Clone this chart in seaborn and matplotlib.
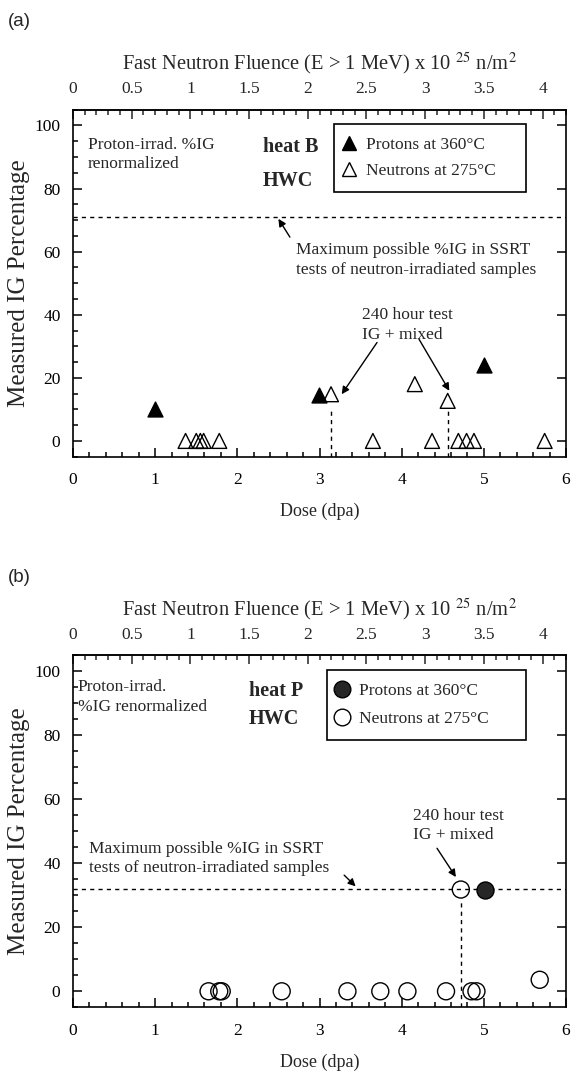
import matplotlib
matplotlib.use("Agg")
import matplotlib.pyplot as plt
import seaborn as sns
import numpy as np
import pandas as pd
from matplotlib.ticker import MultipleLocator, FixedLocator, FuncFormatter
from matplotlib.lines import Line2D

sns.set_theme(style="ticks")
plt.rcParams['font.family'] = ['Liberation Serif', 'DejaVu Serif']
plt.rcParams['mathtext.fontset'] = 'stix'

# ---------------- data ----------------
# panel (a) heat B
dose_pro_a = [1.00, 2.99, 5.00]
ig_pro_a = [10.2, 14.5, 24.2]
dose_neu_a = [1.37, 1.50, 1.55, 1.59, 1.78, 3.14, 3.65, 4.16, 4.37, 4.56, 4.69, 4.79, 4.88, 5.74]
ig_neu_a = [0, 0, 0, 0, 0, 14.8, 0, 18.0, 0, 12.7, 0, 0, 0, 0]
max_ig_a = 71
long_test_dose_a = [3.14, 4.56]
long_test_top_a = [9.5, 10.5]

# panel (b) heat P
dose_pro_b = [5.01]
ig_pro_b = [31.8]
dose_neu_b = [1.65, 1.78, 1.81, 2.54, 3.34, 3.74, 4.07, 4.54, 4.72, 4.85, 4.91, 5.68]
ig_neu_b = [0, 0, 0, 0, 0, 0, 0, 0, 31.8, 0, 0, 3.6]
max_ig_b = 32
long_test_dose_b = [4.72]
long_test_top_b = [28.0]

fluence_per_dpa = 0.7
xticks_dose = [0, 1, 2, 3, 4, 5, 6]
xticks_fluence = [0, 0.5, 1, 1.5, 2, 2.5, 3, 3.5, 4]
yticks_ig = [0, 20, 40, 60, 80, 100]
legend_labels = ['Protons at 360°C', 'Neutrons at 275°C']

FS = 12.5
W, H = 571, 1074
fig = plt.figure(figsize=(W / 100, H / 100), dpi=100)
ax_a = fig.add_axes([73 / W, 1 - 456.7 / H, 493 / W, 347 / H])
ax_b = fig.add_axes([73 / W, 1 - 1007.3 / H, 493 / W, 352 / H])


def style_axes(ax, h_px):
    ax.set_xlim(0, 6)
    ax.set_ylim(-5, 105)
    ax.set_xticks(xticks_dose)
    ax.set_yticks(yticks_ig)
    ax.xaxis.set_minor_locator(MultipleLocator(0.2))
    ax.yaxis.set_minor_locator(MultipleLocator(5))
    ax.tick_params(which='both', direction='in', labelsize=FS, colors='black',
                   top=False, right=True, width=1.1)
    ax.tick_params(which='major', length=6.5)
    ax.tick_params(axis='x', which='major', pad=11)
    ax.tick_params(axis='y', which='major', pad=9)
    ax.tick_params(which='minor', length=3.3, right=False)
    for s in ax.spines.values():
        s.set_linewidth(1.2)
        s.set_color('black')
        s.set_visible(True)
    ax.set_xlabel('Dose (dpa)', fontsize=13)
    ax.xaxis.set_label_coords(0.5, -46 / h_px)
    ax.set_ylabel('Measured IG Percentage', fontsize=18)
    ax.yaxis.set_label_coords(-43 / 493, 0.5)
    sec = ax.secondary_xaxis('top', functions=(lambda d: d * fluence_per_dpa,
                                               lambda f: f / fluence_per_dpa))
    sec.xaxis.set_major_locator(FixedLocator(xticks_fluence))
    sec.xaxis.set_minor_locator(MultipleLocator(0.1))
    sec.xaxis.set_major_formatter(FuncFormatter(lambda v, p: f'{v:g}'))
    sec.tick_params(which='both', direction='in', labelsize=FS, width=1.1, pad=9)
    sec.tick_params(which='major', length=6.5)
    sec.tick_params(which='minor', length=3.3)
    sec.spines['top'].set_linewidth(1.2)
    sec.set_xlabel(r'Fast Neutron Fluence (E > 1 MeV) x 10 $^{25}$ n/m$^{2}$',
                   fontsize=14.8, labelpad=8.5)
    return sec


arrow_kw = dict(arrowstyle='-|>', color='black', lw=1.0, mutation_scale=11,
                shrinkA=0, shrinkB=0)
leg_kw = dict(loc='upper left', fontsize=FS, mode='expand', frameon=True,
              fancybox=False, edgecolor='black', framealpha=1, handlelength=0.2,
              handletextpad=0.9, labelspacing=0.55, borderpad=0.75, borderaxespad=0)

# ---------------- panel (a) ----------------
style_axes(ax_a, 347)
ax_a.axhline(max_ig_a, color='black', lw=1.0, ls=(0, (3, 3)), zorder=1)
ax_a.vlines(long_test_dose_a, -5, long_test_top_a, colors='black', lw=1.0,
            linestyles=(0, (3, 3)), zorder=1)
sns.scatterplot(x=dose_pro_a, y=ig_pro_a, ax=ax_a, marker='^', s=115,
                color='black', edgecolor='black', linewidth=1.0, legend=False, zorder=3)
sns.scatterplot(x=dose_neu_a, y=ig_neu_a, ax=ax_a, marker='^', s=115,
                facecolor='none', edgecolor='black', linewidth=1.0, legend=False, zorder=3)
ax_a.set_xlim(0, 6)
ax_a.set_ylim(-5, 105)

ax_a.text(0.18, 90.8, 'Proton-irrad. %IG\nrenormalized', fontsize=FS,
          va='center', ha='left', linespacing=1.28)
ax_a.text(2.31, 93.1, 'heat B', fontsize=14.5, fontweight='bold', va='center')
ax_a.text(2.31, 82.5, 'HWC', fontsize=14.5, fontweight='bold', va='center')
ax_a.text(2.71, 57.4, 'Maximum possible %IG in SSRT\ntests of neutron-irradiated samples',
          fontsize=FS, va='center', ha='left', linespacing=1.28)
ax_a.text(3.52, 36.8, '240 hour test\nIG + mixed', fontsize=FS, va='center',
          ha='left', linespacing=1.28)
ax_a.annotate('', xy=(2.50, 70.4), xytext=(2.64, 64.6), arrowprops=arrow_kw)
ax_a.annotate('', xy=(3.27, 14.8), xytext=(3.70, 31.2), arrowprops=arrow_kw)
ax_a.annotate('', xy=(4.58, 15.9), xytext=(4.21, 32.3), arrowprops=arrow_kw)

hand_a = [Line2D([], [], ls='', marker='^', ms=10.5, mfc='black', mec='black'),
          Line2D([], [], ls='', marker='^', ms=10.5, mfc='none', mec='black')]
leg = ax_a.legend(hand_a, legend_labels, bbox_to_anchor=(0.53, 0.762, 0.388, 0.197),
                  **leg_kw)
leg.get_frame().set_linewidth(1.2)

# ---------------- panel (b) ----------------
style_axes(ax_b, 352)
ax_b.axhline(max_ig_b, color='black', lw=1.0, ls=(0, (3, 3)), zorder=1)
ax_b.vlines(long_test_dose_b, -5, long_test_top_b, colors='black', lw=1.0,
            linestyles=(0, (3, 3)), zorder=1)
sns.scatterplot(x=dose_neu_b, y=ig_neu_b, ax=ax_b, marker='o', s=150,
                facecolor='none', edgecolor='black', linewidth=1.0, legend=False, zorder=3)
sns.scatterplot(x=dose_pro_b, y=ig_pro_b, ax=ax_b, marker='o', s=150,
                color='#262626', edgecolor='black', linewidth=1.0, legend=False, zorder=3)
ax_b.set_xlim(0, 6)
ax_b.set_ylim(-5, 105)

ax_b.text(0.06, 92.0, 'Proton-irrad.\n%IG renormalized', fontsize=FS,
          va='center', ha='left', linespacing=1.28)
ax_b.text(2.14, 93.7, 'heat P', fontsize=14.5, fontweight='bold', va='center')
ax_b.text(2.14, 85.2, 'HWC', fontsize=14.5, fontweight='bold', va='center')
ax_b.text(0.195, 41.5, 'Maximum possible %IG in SSRT\ntests of neutron-irradiated samples',
          fontsize=FS, va='center', ha='left', linespacing=1.28)
ax_b.text(4.14, 51.9, '240 hour test\nIG + mixed', fontsize=FS, va='center',
          ha='left', linespacing=1.28)
ax_b.annotate('', xy=(3.44, 32.8), xytext=(3.30, 36.3), arrowprops=arrow_kw)
ax_b.annotate('', xy=(4.66, 35.7), xytext=(4.43, 44.7), arrowprops=arrow_kw)

hand_b = [Line2D([], [], ls='', marker='o', ms=12, mfc='#262626', mec='black'),
          Line2D([], [], ls='', marker='o', ms=12, mfc='none', mec='black')]
leg = ax_b.legend(hand_b, legend_labels, bbox_to_anchor=(0.515, 0.76, 0.403, 0.199),
                  **dict(leg_kw, labelspacing=0.67))
leg.get_frame().set_linewidth(1.2)

fig.text(8 / W, 1 - 22 / H, '(a)', fontsize=13.5, family='Liberation Sans', va='center')
fig.text(8 / W, 1 - 577 / H, '(b)', fontsize=13.5, family='Liberation Sans', va='center')

fig.savefig('out.png', dpi=100)
